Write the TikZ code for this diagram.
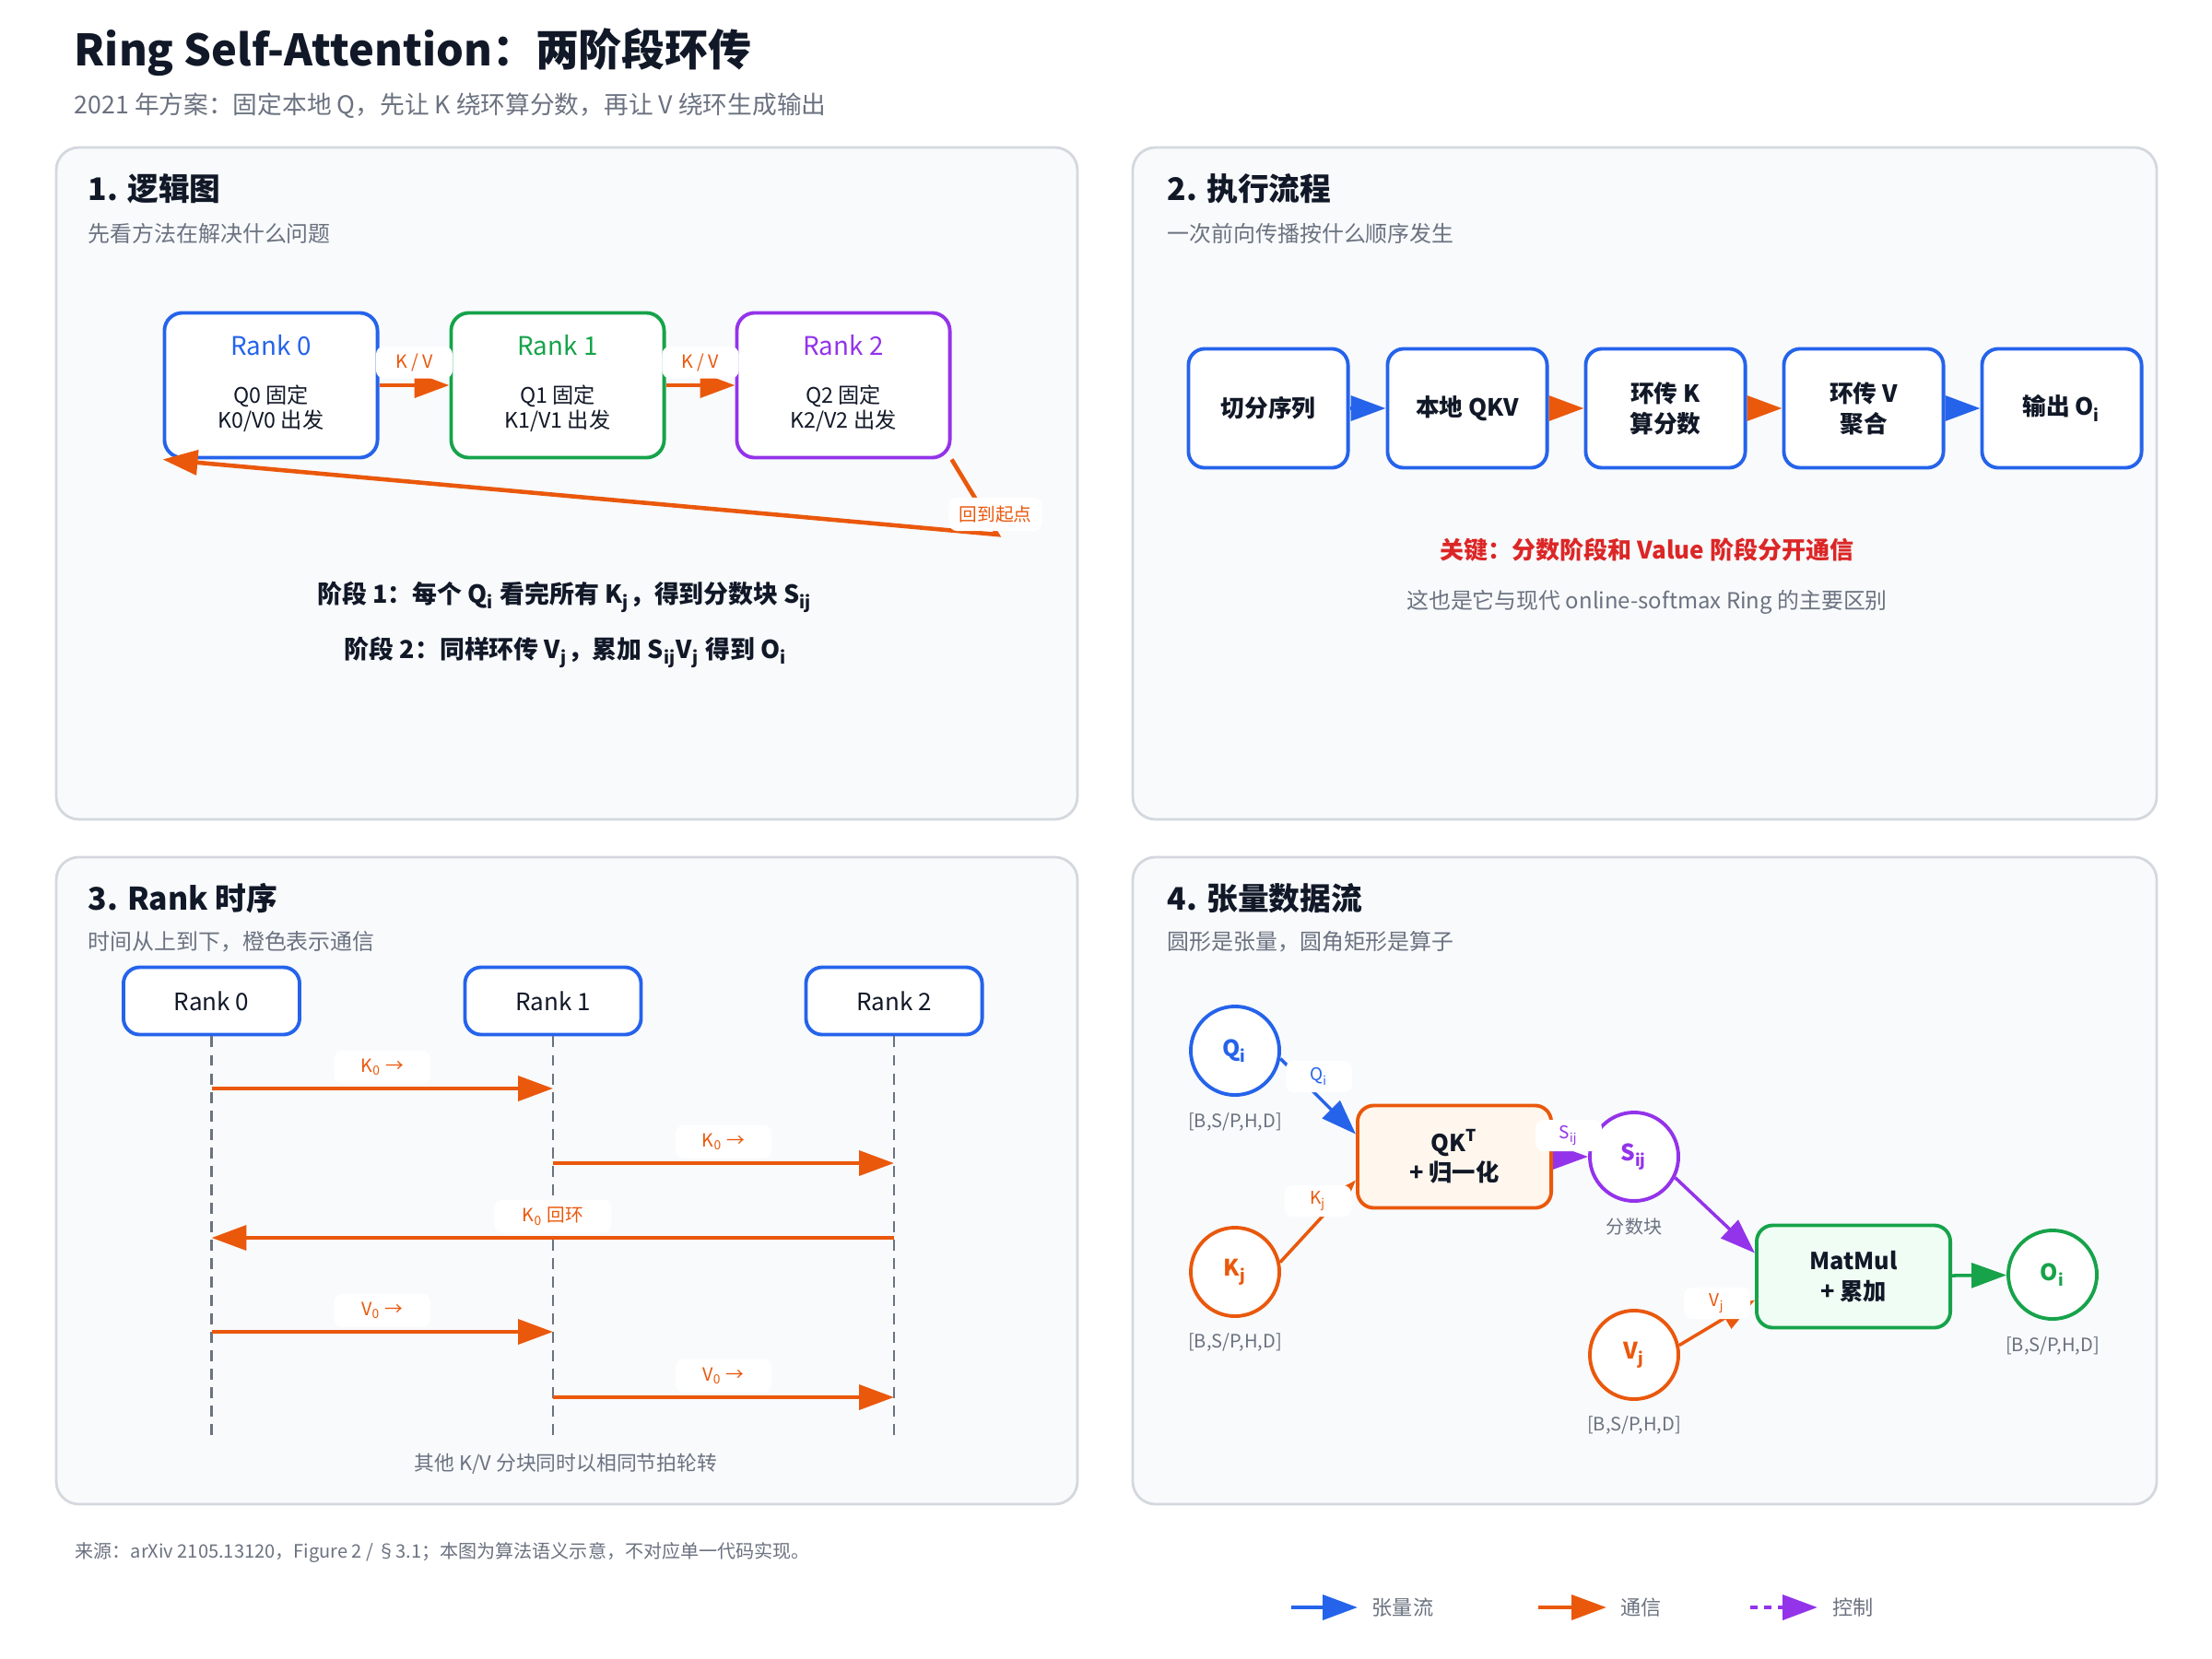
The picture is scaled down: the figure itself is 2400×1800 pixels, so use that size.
\documentclass[tikz,border=0pt]{standalone}
\usepackage{fontspec}
\setmainfont{Noto Sans CJK SC}
\usetikzlibrary{arrows.meta,calc}
\definecolor{cblue}{HTML}{2563EB}
\definecolor{corange}{HTML}{EA580C}
\definecolor{cgreen}{HTML}{16A34A}
\definecolor{cpurple}{HTML}{9333EA}
\definecolor{cred}{HTML}{DC2626}
\definecolor{cdark}{HTML}{111827}
\definecolor{cgray}{HTML}{6B7280}
\definecolor{cpanel}{HTML}{F8FAFC}
\definecolor{cpline}{HTML}{D4D8DE}
\definecolor{cqk}{HTML}{FFF7ED}
\definecolor{cmm}{HTML}{F0FDF4}
\newcommand\fsz[2]{\fontsize{#1pt}{#2pt}\selectfont}
\newcommand\sbs[1]{\textsubscript{#1}}
\tikzset{
 panel/.style={draw=cpline, line width=0.8pt, fill=cpanel, rounded corners=7pt},
 htitle/.style={anchor=west, inner sep=0pt, text=cdark, font=\fsz{9.6}{11.5}\bfseries},
 hsub/.style={anchor=west, inner sep=0pt, text=cgray, font=\fsz{6.8}{8}},
 arrowtip/.style={-{Triangle[length=10.8pt,width=7.6pt]}},
 rankbox/.style={draw=#1, line width=1.1pt, fill=white, rounded corners=5.5pt, minimum width=2.31cm, minimum height=1.57cm, inner sep=0pt},
 flowbox/.style={draw=cblue, line width=1.1pt, fill=white, rounded corners=5pt, minimum width=1.73cm, minimum height=1.29cm, inner sep=0pt, align=center, text=cdark, font=\fsz{7.3}{9.4}\bfseries},
 seqbox/.style={draw=cblue, line width=1.1pt, fill=white, rounded corners=5pt, minimum width=1.91cm, minimum height=0.73cm, inner sep=0pt, text=cdark, font=\fsz{7.4}{8.8}},
 comm/.style={line width=1.3pt, arrowtip, color=corange},
 lifeline/.style={draw=cgray, line width=0.8pt, dash pattern=on 3.4pt off 2.3pt},
 msgtag/.style={fill=white, rounded corners=2.5pt, inner sep=0pt, font=\fsz{5.6}{6.7}},
 tensorc/.style={circle, draw=#1, line width=1.1pt, fill=white, minimum size=0.96cm, inner sep=0pt, text=#1, font=\fsz{7}{8.4}\bfseries},
 opbox/.style={draw=#1, line width=1.1pt, rounded corners=5pt, minimum width=2.1cm, minimum height=1.11cm, inner sep=0pt, align=center, text=cdark, font=\fsz{7.2}{9.2}\bfseries},
 shapelbl/.style={text=cgray, font=\fsz{5.7}{6.8}, inner sep=0pt},
 edgefour/.style={line width=1pt, arrowtip, color=#1},
 legendtxt/.style={anchor=west, text=cgray, font=\fsz{6.3}{7.5}, inner sep=0pt},
}
\begin{document}
\begin{tikzpicture}[x=0.01cm,y=-0.01cm]
\useasboundingbox[fill=white] (0,0) rectangle (2400,1800);

% title
\node[anchor=west, inner sep=0pt, text=cdark, font=\fsz{13.35}{16}\bfseries] (title) at (80,57) {Ring Self-Attention：两阶段环传};
\node[anchor=west, inner sep=0pt, text=cgray, font=\fsz{7.6}{9.1}] (subtitle) at (80,115) {2021 年方案：固定本地 Q，先让 K 绕环算分数，再让 V 绕环生成输出};

% panels
\draw[panel] (61,160) rectangle (1169,889);
\draw[panel] (1229,160) rectangle (2340,889);
\draw[panel] (61,930) rectangle (1169,1632);
\draw[panel] (1229,930) rectangle (2340,1632);

\node[htitle] (h1) at (95,205) {1. 逻辑图};
\node[hsub] (s1) at (95,253) {先看方法在解决什么问题};
\node[htitle] (h2) at (1266,205) {2. 执行流程};
\node[hsub] (s2) at (1266,253) {一次前向传播按什么顺序发生};
\node[htitle] (h3) at (95,975) {3. Rank 时序};
\node[hsub] (s3) at (95,1022) {时间从上到下，橙色表示通信};
\node[htitle] (h4) at (1266,975) {4. 张量数据流};
\node[hsub] (s4) at (1266,1022) {圆形是张量，圆角矩形是算子};

% ---------- panel 1
\node[rankbox=cblue] (r0) at (294,418) {};
\node[rankbox=cgreen] (r1) at (605,418) {};
\node[rankbox=cpurple] (r2) at (915,418) {};
\foreach \n/\c/\i in {r0/cblue/0, r1/cgreen/1, r2/cpurple/2}{
  \node[text=\c, font=\fsz{7.9}{9.5}, inner sep=0pt] (\n-t) at ($(\n.center)+(0,-43)$) {Rank \i};
  \node[text=cdark, font=\fsz{6.6}{7.7}, align=center, inner sep=0pt] (\n-b) at ($(\n.center)+(0,25)$) {Q\i{} 固定\\K\i/V\i{} 出发};
}
\draw[comm] (r0) -- (r1) node[msgtag, midway, above=0.05cm, minimum width=0.83cm, minimum height=0.35cm, text=corange] (kv1) {K / V};
\draw[comm] (r1) -- (r2) node[msgtag, midway, above=0.05cm, minimum width=0.83cm, minimum height=0.35cm, text=corange] (kv2) {K / V};
\coordinate (rb) at (1082,580);
\draw[comm] (r2.south east) -- (rb) -- (r0.south west);
\node[msgtag, text=corange, minimum width=1.01cm, minimum height=0.36cm] (rbl) at (1080,558) {回到起点};

\node[font=\fsz{7.65}{9.2}\bfseries, text=cdark, inner sep=0pt] (st1) at (613,648) {阶段 1：每个 Q\sbs{i} 看完所有 K\sbs{j}，得到分数块 S\sbs{ij}};
\node[font=\fsz{7.65}{9.2}\bfseries, text=cdark, inner sep=0pt] (st2) at (614,708) {阶段 2：同样环传 V\sbs{j}，累加 S\sbs{ij}V\sbs{j} 得到 O\sbs{i}};

% ---------- panel 2
\node[flowbox] (f1) at (1376,443) {切分序列};
\node[flowbox] (f2) at (1592,443) {本地 QKV};
\node[flowbox] (f3) at (1807,443) {环传 K\\算分数};
\node[flowbox] (f4) at (2022,443) {环传 V\\聚合};
\node[flowbox] (f5) at (2237,443) {输出 O\sbs{i}};
\draw[line width=1.3pt, arrowtip, color=cblue] (f1) -- (f2);
\draw[line width=1.3pt, arrowtip, color=corange] (f2) -- (f3);
\draw[line width=1.3pt, arrowtip, color=corange] (f3) -- (f4);
\draw[line width=1.3pt, arrowtip, color=cblue] (f4) -- (f5);
\node[text=cred, font=\fsz{7.4}{9}\bfseries, inner sep=0pt] (key) at (1787,597) {关键：分数阶段和 Value 阶段分开通信};
\node[text=cgray, font=\fsz{6.8}{8}, inner sep=0pt] (keysub) at (1787,653) {这也是它与现代 online-softmax Ring 的主要区别};

% ---------- panel 3
\node[seqbox] (k0) at (229.5,1086) {Rank 0};
\node[seqbox] (k1) at (600,1086) {Rank 1};
\node[seqbox] (k2) at (970,1086) {Rank 2};
\coordinate (tend) at (0,1557);
\draw[lifeline] (k0.south) -- (k0 |- tend);
\draw[lifeline] (k1.south) -- (k1 |- tend);
\draw[lifeline] (k2.south) -- (k2 |- tend);
\coordinate (t1) at (0,1181);
\coordinate (t2) at (0,1262);
\coordinate (t3) at (0,1343);
\coordinate (t4) at (0,1445);
\coordinate (t5) at (0,1516);
\tikzset{seqtag/.style={msgtag, midway, above=0.03cm, minimum width=1.04cm, minimum height=0.36cm, text=corange}}
\draw[comm] (k0 |- t1) -- (k1 |- t1) node[seqtag] (m1) {K\sbs{0} →};
\draw[comm] (k1 |- t2) -- (k2 |- t2) node[seqtag] (m2) {K\sbs{0} →};
\draw[comm] (k2 |- t3) -- (k0 |- t3) node[seqtag, minimum width=1.27cm] (m3) {K\sbs{0} 回环};
\draw[comm] (k0 |- t4) -- (k1 |- t4) node[seqtag] (m4) {V\sbs{0} →};
\draw[comm] (k1 |- t5) -- (k2 |- t5) node[seqtag] (m5) {V\sbs{0} →};
\node[text=cgray, font=\fsz{6.2}{7.5}, inner sep=0pt] (foot3) at (614,1588) {其他 K/V 分块同时以相同节拍轮转};

% ---------- panel 4
\node[tensorc=cblue] (qi) at (1340,1140) {Q\sbs{i}};
\node[tensorc=corange] (kj) at (1340,1380) {K\sbs{j}};
\node[tensorc=cpurple] (sij) at (1773,1255) {S\sbs{ij}};
\node[tensorc=corange] (vj) at (1773,1470) {V\sbs{j}};
\node[tensorc=cgreen] (oi) at (2227,1383) {O\sbs{i}};
\node[opbox=corange, fill=cqk] (qkt) at (1578,1255) {QK\textsuperscript{T}\\+ 归一化};
\node[opbox=cgreen, fill=cmm] (mm) at (2011,1385) {MatMul\\+ 累加};
\node[shapelbl] (qis) at (1340,1217) {[B,S/P,H,D]};
\node[shapelbl] (kjs) at (1340,1456) {[B,S/P,H,D]};
\node[shapelbl] (vjs) at (1773,1546) {[B,S/P,H,D]};
\node[shapelbl] (ois) at (2227,1460) {[B,S/P,H,D]};
\node[shapelbl] (sijs) at (1773,1331) {分数块};

\draw[edgefour=cblue] (qi.-10) -- ($(qkt.north west)+(0,33)$);
\draw[edgefour=corange] (kj.12) -- ($(qkt.south west)+(0,-32)$);
\draw[edgefour=cpurple] (qkt) -- (sij);
\draw[edgefour=cpurple] (sij.-27) -- ($(mm.north west)+(0,32)$);
\draw[edgefour=corange] (vj.12) -- ($(mm.south west)+(0,-32)$);
\draw[edgefour=cgreen] (mm) -- (oi);
\tikzset{ptag/.style={msgtag, minimum width=0.72cm, minimum height=0.34cm, font=\fsz{5.4}{6.5}}}
\node[ptag, text=cblue] (lq) at (1431,1168) {Q\sbs{i}};
\node[ptag, text=corange] (lk) at (1430,1303) {K\sbs{j}};
\node[ptag, text=cpurple] (ls) at (1702,1232) {S\sbs{ij}};
\node[ptag, text=corange] (lv) at (1863,1414) {V\sbs{j}};

% ---------- footer
\node[anchor=west, text=cgray, font=\fsz{5.7}{7}, inner sep=0pt] (src) at (81,1684) {来源：arXiv 2105.13120，Figure 2 / §3.1；本图为算法语义示意，不对应单一代码实现。};
\coordinate (lg1a) at (1401,1744); \coordinate (lg1b) at (1473,1744);
\coordinate (lg2a) at (1669,1744); \coordinate (lg2b) at (1743,1744);
\coordinate (lg3a) at (1899,1744); \coordinate (lg3b) at (1972,1744);
\draw[line width=1.3pt, arrowtip, color=cblue] (lg1a) -- (lg1b);
\draw[line width=1.3pt, arrowtip, color=corange] (lg2a) -- (lg2b);
\draw[line width=1.3pt, arrowtip, color=cpurple, dash pattern=on 2.3pt off 2pt] (lg3a) -- (lg3b);
\node[legendtxt] (lg1t) at (1488,1744) {张量流};
\node[legendtxt] (lg2t) at (1758,1744) {通信};
\node[legendtxt] (lg3t) at (1988,1744) {控制};
\end{tikzpicture}
\end{document}
